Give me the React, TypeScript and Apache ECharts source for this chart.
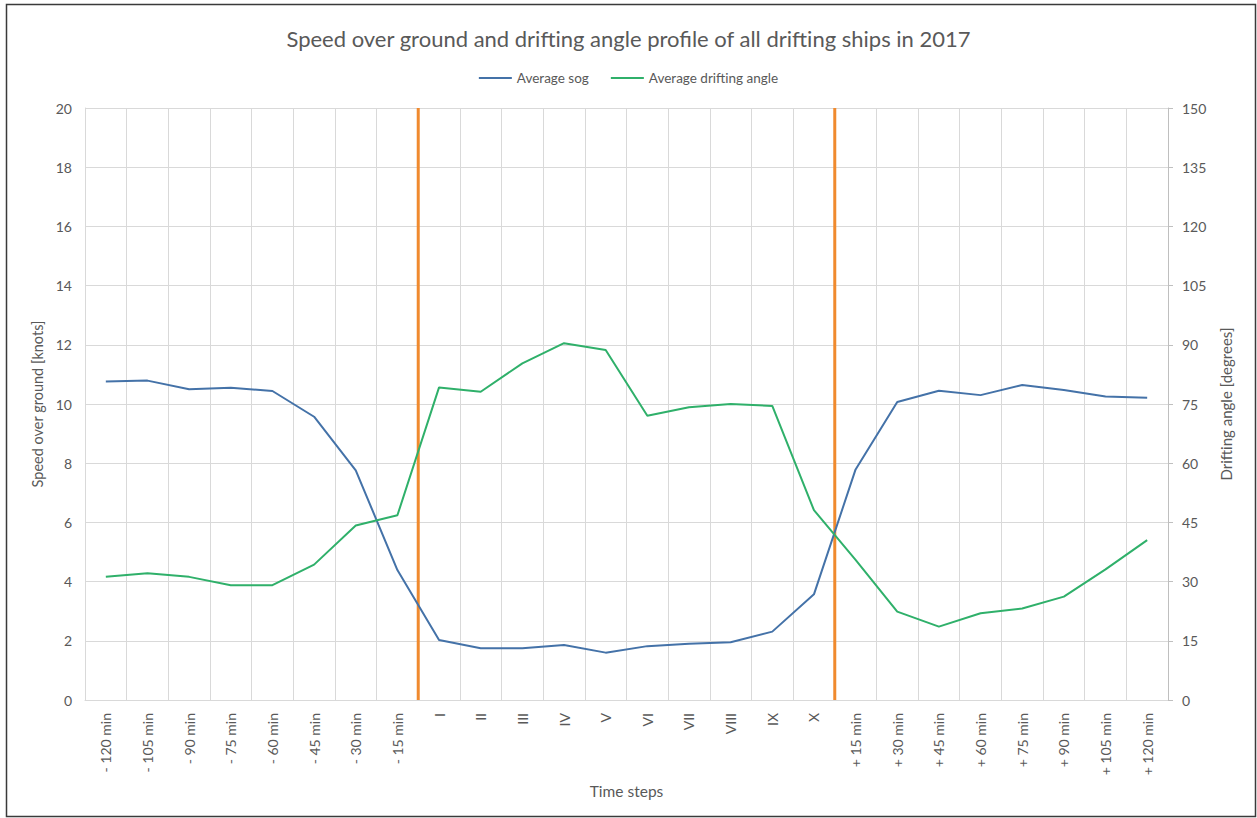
import React, { useEffect, useRef } from "react";
import * as echarts from "echarts";

const categories = [
  "- 120 min", "- 105 min", "- 90 min", "- 75 min", "- 60 min", "- 45 min", "- 30 min", "- 15 min",
  "I", "II", "III", "IV", "V", "VI", "VII", "VIII", "IX", "X",
  "+ 15 min", "+ 30 min", "+ 45 min", "+ 60 min", "+ 75 min", "+ 90 min", "+ 105 min", "+ 120 min",
];

const averageSog = [
  10.76, 10.79, 10.5, 10.55, 10.44, 9.57, 7.76, 4.39,
  2.03, 1.75, 1.75, 1.86, 1.6, 1.82, 1.9, 1.95, 2.31, 3.57,
  7.79, 10.07, 10.45, 10.3, 10.64, 10.47, 10.25, 10.21,
];

const averageDriftingAngle = [
  31.2, 32.1, 31.2, 29.1, 29.1, 34.3, 44.2, 46.8,
  79.2, 78.1, 85.3, 90.4, 88.7, 72.0, 74.2, 75.0, 74.5, 48.1,
  35.5, 22.4, 18.6, 22.0, 23.2, 26.2, 33.1, 40.5,
];

// phase boundaries (index of category band edge)
const phaseBoundaries = [8, 18];

const leftTicks = { min: 0, max: 20, interval: 2 };
const rightTicks = { min: 0, max: 150, interval: 15 };

const FONT = "Lato";
const TEXT = "#595959";
const GRID = "#d9d9d9";

export default function App() {
  const ref = useRef<HTMLDivElement>(null);

  useEffect(() => {
    if (!ref.current) return;
    const chart = echarts.init(ref.current, null, { renderer: "svg" });
    const boundarySeries = phaseBoundaries.map((b, i) => ({
      name: "boundary" + i,
      type: "line",
      xAxisIndex: 1,
      yAxisIndex: 0,
      data: [
        [b, leftTicks.min],
        [b, leftTicks.max],
      ],
      symbol: "none",
      silent: true,
      lineStyle: { color: "#f08a2e", width: 3 },
      z: 1,
    }));
    chart.setOption({
      animation: false,
      backgroundColor: "#ffffff",
      textStyle: { fontFamily: FONT },
      title: {
        text: "Speed over ground and drifting angle profile of all drifting ships in 2017",
        left: "center",
        top: 22,
        textStyle: { fontFamily: FONT, fontSize: 22, fontWeight: "normal", color: TEXT },
      },
      legend: {
        top: 66,
        left: "center",
        data: ["Average sog", "Average drifting angle"],
        icon: "rect",
        itemWidth: 33,
        itemHeight: 2,
        itemGap: 22,
        textStyle: { fontFamily: FONT, fontSize: 13.5, color: TEXT },
      },
      graphic: [
        {
          type: "rect",
          shape: { x: 6.5, y: 4.5, width: 1249, height: 812 },
          style: { fill: "none", stroke: "#3a3a3a", lineWidth: 1.5 },
          silent: true,
        },
      ],
      grid: { left: 85, right: 89, top: 108, bottom: 118, containLabel: false },
      xAxis: [
        {
          type: "category",
          data: categories,
          boundaryGap: true,
          name: "Time steps",
          nameLocation: "middle",
          nameGap: 80,
          nameTextStyle: { fontFamily: FONT, fontSize: 15.5, color: TEXT },
          axisLine: { show: true, lineStyle: { color: GRID } },
          axisTick: { show: false },
          axisLabel: {
            rotate: 90,
            interval: 0,
            margin: 13,
            fontFamily: FONT,
            fontSize: 14,
            color: TEXT,
          },
          splitLine: { show: true, interval: 0, lineStyle: { color: GRID } },
        },
        {
          type: "value",
          min: 0,
          max: categories.length,
          show: false,
        },
      ],
      yAxis: [
        {
          type: "value",
          min: leftTicks.min,
          max: leftTicks.max,
          interval: leftTicks.interval,
          position: "left",
          name: "Speed over ground [knots]",
          nameLocation: "middle",
          nameGap: 38,
          nameRotate: 90,
          nameTextStyle: { fontFamily: FONT, fontSize: 14.5, color: TEXT },
          axisLine: { show: true, lineStyle: { color: GRID } },
          axisTick: { show: false },
          axisLabel: { margin: 13, fontFamily: FONT, fontSize: 14, color: TEXT },
          splitLine: { show: true, lineStyle: { color: GRID } },
        },
        {
          type: "value",
          min: rightTicks.min,
          max: rightTicks.max,
          interval: rightTicks.interval,
          position: "right",
          name: "Drifting angle [degrees]",
          nameLocation: "middle",
          nameGap: 50,
          nameRotate: 90,
          nameTextStyle: { fontFamily: FONT, fontSize: 15, color: TEXT },
          axisLine: { show: true, lineStyle: { color: "#bfbfbf" } },
          axisTick: { show: true, length: 5, lineStyle: { color: "#bfbfbf" } },
          axisLabel: { margin: 14, fontFamily: FONT, fontSize: 14, color: TEXT },
          splitLine: { show: false },
        },
      ],
      series: [
        ...boundarySeries,
        {
          name: "Average sog",
          type: "line",
          xAxisIndex: 0,
          yAxisIndex: 0,
          data: averageSog,
          symbol: "none",
          lineStyle: { color: "#4472a8", width: 2 },
          itemStyle: { color: "#4472a8" },
          z: 3,
        },
        {
          name: "Average drifting angle",
          type: "line",
          xAxisIndex: 0,
          yAxisIndex: 1,
          data: averageDriftingAngle,
          symbol: "none",
          lineStyle: { color: "#2fb06a", width: 2 },
          itemStyle: { color: "#2fb06a" },
          z: 3,
        },
      ],
    });
    return () => chart.dispose();
  }, []);

  return (
    <div
      ref={ref}
      style={{ position: "fixed", left: 0, top: 0, width: 1257, height: 818, background: "#fff" }}
    />
  );
}
